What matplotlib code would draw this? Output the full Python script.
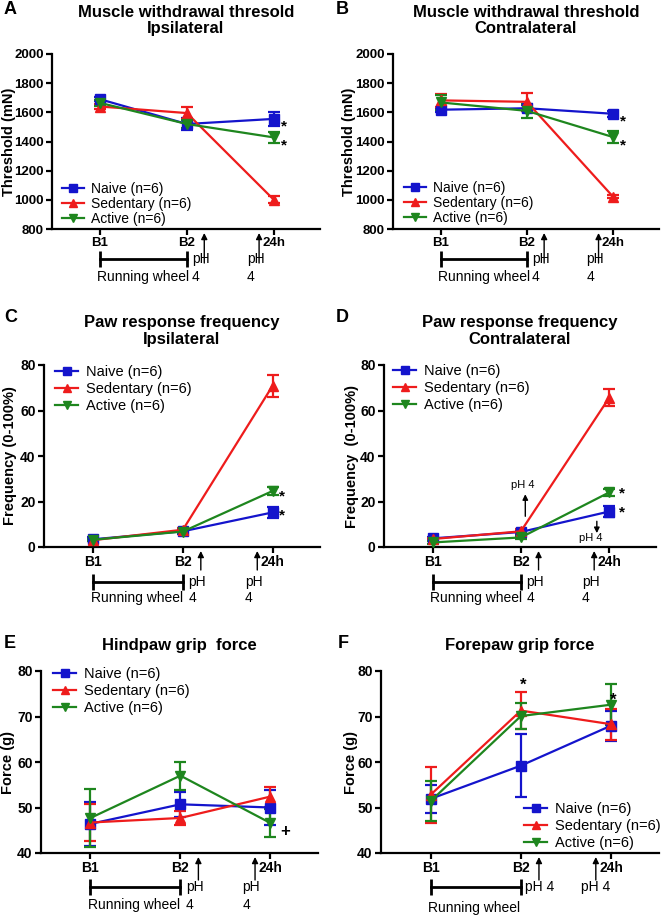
import matplotlib
matplotlib.use('Agg')
import matplotlib.pyplot as plt
import matplotlib.transforms as mtransforms

plt.rcParams['font.family'] = ['Liberation Sans', 'DejaVu Sans']

time_points = ['B1', 'B2', '24h']
groups = ['Naive (n=6)', 'Sedentary (n=6)', 'Active (n=6)']
colors = ['#1414cc', '#ee1c1c', '#1e861e']
markers = ['s', '^', 'v']

# A - muscle withdrawal threshold, ipsilateral (mN)
a_naive = [1690, 1520, 1555]
a_naive_err = [15, 40, 50]
a_sed = [1640, 1595, 1000]
a_sed_err = [20, 40, 25]
a_act = [1665, 1520, 1428]
a_act_err = [20, 25, 40]

# B - muscle withdrawal threshold, contralateral (mN)
b_naive = [1618, 1628, 1590]
b_naive_err = [15, 20, 20]
b_sed = [1682, 1672, 1020]
b_sed_err = [45, 60, 10]
b_act = [1668, 1610, 1430]
b_act_err = [50, 50, 40]

# C - paw response frequency, ipsilateral (%)
c_naive = [3.4, 6.9, 15.2]
c_naive_err = [0.8, 1.2, 2.5]
c_sed = [3.0, 7.6, 70.8]
c_sed_err = [0.5, 0.8, 4.7]
c_act = [3.2, 6.8, 24.6]
c_act_err = [0.5, 0.8, 1.8]

# D - paw response frequency, contralateral (%)
d_naive = [3.8, 6.6, 15.6]
d_naive_err = [0.8, 1.0, 2.5]
d_sed = [3.5, 6.9, 65.6]
d_sed_err = [0.5, 0.8, 3.7]
d_act = [2.0, 4.2, 24.0]
d_act_err = [0.5, 0.8, 1.5]

# E - hindpaw grip force (g)
e_naive = [46.4, 50.7, 50.0]
e_naive_err = [4.8, 2.8, 3.8]
e_sed = [46.7, 47.7, 52.4]
e_sed_err = [4.0, 1.5, 2.2]
e_act = [47.7, 57.0, 46.6]
e_act_err = [6.4, 3.1, 3.0]

# F - forepaw grip force (g)
f_naive = [51.9, 59.2, 68.0]
f_naive_err = [3.0, 6.9, 3.3]
f_sed = [52.8, 71.3, 68.3]
f_sed_err = [6.1, 4.0, 3.4]
f_act = [51.4, 70.1, 72.6]
f_act_err = [4.4, 2.9, 4.5]

fig = plt.figure(figsize=(6.62, 9.17), dpi=100)
W, H = 662, 917


def make_axes(left, right, top, bottom):
    return fig.add_axes([left / W, 1 - bottom / H, (right - left) / W, (bottom - top) / H])


def draw_series(ax, series, errs):
    for vals, err, c, m, lab in zip(series, errs, colors, markers, groups):
        ax.errorbar(range(3), vals, yerr=err, fmt='none', ecolor=c, elinewidth=1.6,
                    capsize=4, capthick=1.6, clip_on=False, zorder=3)
        ax.plot(range(3), vals, color=c, marker=m, ms=6.5, lw=1.6, label=lab,
                clip_on=False, zorder=4)


def style(ax, ylim, yticks, ylabel, label_x, title, tick_fs, spacing):
    ax.set_xlim(-0.55, 2.53)
    ax.set_ylim(*ylim)
    ax.set_yticks(yticks)
    ax.set_xticks(range(3))
    ax.set_xticklabels(time_points)
    for s in ['top', 'right']:
        ax.spines[s].set_visible(False)
    for s in ['left', 'bottom']:
        ax.spines[s].set_linewidth(1.6)
    ax.tick_params(direction='out', length=4, width=1.6, labelsize=tick_fs, pad=2)
    for lab in ax.get_xticklabels() + ax.get_yticklabels():
        lab.set_fontweight('bold')
    ax.set_ylabel(ylabel, fontsize=10.5, fontweight='bold')
    ax.yaxis.set_label_coords(label_x, 0.5)
    ax.set_title(title, fontsize=12, fontweight='bold', pad=15, linespacing=spacing)


def legend(ax, x, y, fs, spacing):
    ax.legend(loc='center left', bbox_to_anchor=(x, y), frameon=False, fontsize=fs,
              labelspacing=spacing, handlelength=1.6, handletextpad=0.5,
              borderpad=0, borderaxespad=0, markerscale=0.8)


def offset(ax, dy):
    return mtransforms.offset_copy(ax.get_xaxis_transform(), fig=fig, x=0, y=-dy, units='dots')


def schedule(ax, bar_dy, txt_dy, tail_dy, combined=False):
    ax.plot([0, 1], [0, 0], transform=offset(ax, bar_dy), color='k', lw=2,
            marker='|', ms=12, mew=2, clip_on=False)
    ax.text(-0.03, 0, 'Running wheel', transform=offset(ax, txt_dy), ha='left',
            va='center', fontsize=10)
    for xa, xt in [(1.2, 1.06), (1.83, 1.69)]:
        ax.annotate('', xy=(xa, 0), xycoords=offset(ax, 4), xytext=(xa, 0),
                    textcoords=offset(ax, tail_dy), annotation_clip=False,
                    arrowprops=dict(arrowstyle='-|>', color='k', lw=1,
                                    mutation_scale=9, shrinkA=0, shrinkB=0))
        if combined:
            ax.text(xt - 0.02, 0, 'pH 4', transform=offset(ax, bar_dy), ha='left',
                    va='center', fontsize=10)
        else:
            ax.text(xt, 0, 'pH', transform=offset(ax, bar_dy), ha='left',
                    va='center', fontsize=10)
            ax.text(xt, 0, '4', transform=offset(ax, txt_dy), ha='left',
                    va='center', fontsize=10)


def star(ax, x, y, s='*', fs=11):
    ax.text(x, y, s, ha='center', va='center', fontsize=fs, fontweight='bold', clip_on=False)


# Panel A
ax = make_axes(52, 320, 54, 229)
draw_series(ax, [a_naive, a_sed, a_act], [a_naive_err, a_sed_err, a_act_err])
style(ax, (800, 2000), range(800, 2001, 200), 'Threshold (mN)', -0.135,
      'Muscle withdrawal thresold\nIpsilateral', 9.5, 1.1)
legend(ax, 0.037, 0.143, 10, 0.05)
schedule(ax, 30, 48, 34)
star(ax, 2.12, 1505)
star(ax, 2.12, 1372)

# Panel B
ax = make_axes(393, 659, 54, 229)
draw_series(ax, [b_naive, b_sed, b_act], [b_naive_err, b_sed_err, b_act_err])
style(ax, (800, 2000), range(800, 2001, 200), 'Threshold (mN)', -0.139,
      'Muscle withdrawal threshold\nContralateral', 9.5, 1.1)
legend(ax, 0.041, 0.149, 10, 0.05)
schedule(ax, 30, 48, 34)
star(ax, 2.11, 1538)
star(ax, 2.11, 1372)

# Panel C
ax = make_axes(44, 320, 365, 547)
draw_series(ax, [c_naive, c_sed, c_act], [c_naive_err, c_sed_err, c_act_err])
style(ax, (0, 80), range(0, 81, 20), 'Frequency (0-100%)', -0.098,
      'Paw response frequency\nIpsilateral', 10, 1.2)
legend(ax, 0.04, 0.868, 10.5, 0.2)
schedule(ax, 35, 51, 23)
star(ax, 2.11, 22)
star(ax, 2.11, 13.9)

# Panel D
ax = make_axes(384, 656, 365, 547)
draw_series(ax, [d_naive, d_sed, d_act], [d_naive_err, d_sed_err, d_act_err])
style(ax, (0, 80), range(0, 81, 20), 'Frequency  (0-100%)', -0.092,
      'Paw response frequency\nContralateral', 10, 1.2)
legend(ax, 0.033, 0.874, 10.5, 0.2)
schedule(ax, 35, 51, 23)
star(ax, 2.14, 23.7)
star(ax, 2.14, 15.1)
ax.text(1.02, 27.3, 'pH 4', ha='center', va='center', fontsize=8)
ax.annotate('', xy=(1.05, 23.2), xytext=(1.05, 13.5),
            arrowprops=dict(arrowstyle='-|>', color='k', lw=1, mutation_scale=8,
                            shrinkA=0, shrinkB=0))
ax.annotate('', xy=(1.86, 6.1), xytext=(1.86, 11.3),
            arrowprops=dict(arrowstyle='-|>', color='k', lw=1, mutation_scale=8,
                            shrinkA=0, shrinkB=0))
ax.text(1.79, 3.9, 'pH 4', ha='center', va='center', fontsize=8)

# Panel E
ax = make_axes(41, 318, 671, 853)
draw_series(ax, [e_naive, e_sed, e_act], [e_naive_err, e_sed_err, e_act_err])
style(ax, (40, 80), range(40, 81, 10), 'Force (g)', -0.094, 'Hindpaw grip  force', 10, 1.2)
legend(ax, 0.043, 0.89, 10.5, 0.2)
schedule(ax, 34, 52, 27)
star(ax, 2.16, 44.7, '+', 12)

# Panel F
ax = make_axes(381, 659, 671, 853)
draw_series(ax, [f_naive, f_sed, f_act], [f_naive_err, f_sed_err, f_act_err])
style(ax, (40, 80), range(40, 81, 10), 'Force (g)', -0.083, 'Forepaw grip force', 10, 1.2)
legend(ax, 0.514, 0.148, 10.5, 0.2)
schedule(ax, 34, 55, 27, combined=True)
star(ax, 1.02, 76.8, '*', 12)
star(ax, 2.02, 73.5, '*', 12)

# panel letters
for letter, x, y in [('A', 4, 10), ('B', 336, 10), ('C', 4, 317),
                     ('D', 336, 317), ('E', 4, 643), ('F', 338, 643)]:
    fig.text(x / W, 1 - y / H, letter, fontsize=13, fontweight='bold', ha='left', va='center')

fig.savefig('out.png', dpi=100)
